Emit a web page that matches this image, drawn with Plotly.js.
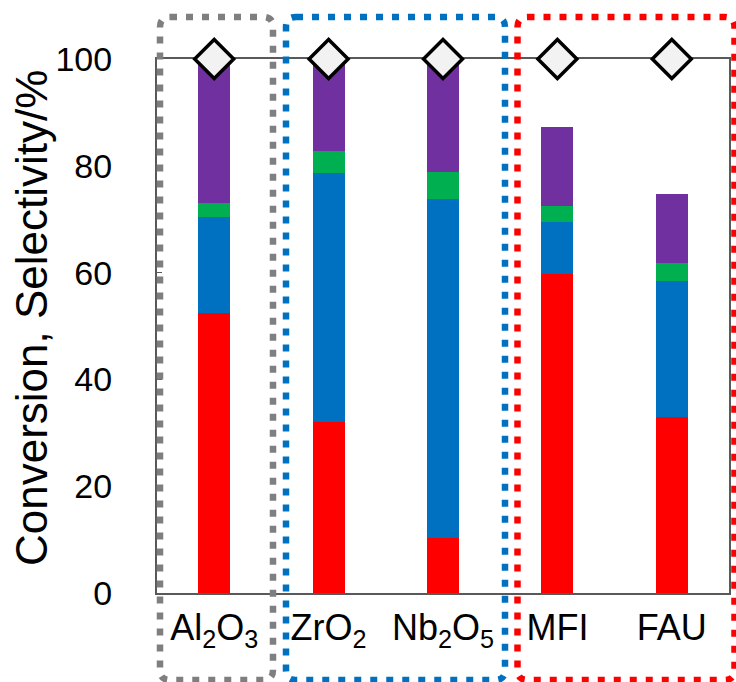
<!DOCTYPE html>
<html>
<head>
<meta charset="utf-8">
<script src="https://cdn.plot.ly/plotly-3.0.1.min.js"></script>
<style>
  html, body { margin: 0; padding: 0; background: #ffffff; }
  #chart { width: 736px; height: 682px; }
</style>
</head>
<body>
<div id="chart"></div>
<script>
// Catalysts on the category axis
const catalysts = ['Al<sub>2</sub>O<sub>3</sub>', 'ZrO<sub>2</sub>', 'Nb<sub>2</sub>O<sub>5</sub>', 'MFI', 'FAU'];

// Selectivity contributions (%), stacked bottom to top
const selRed    = [52.4, 32.0, 10.3, 59.7, 33.0];
const selBlue   = [18.0, 46.7, 63.5,  9.8, 25.4];
const selGreen  = [ 2.6,  4.1,  5.0,  3.0,  3.4];
const selPurple = [27.0, 17.2, 21.2, 14.8, 12.9];

// Conversion (%)
const conversion = [100, 100, 100, 100, 100];

const yTicks = [0, 20, 40, 60, 80, 100];
const yTitle = 'Conversion, Selectivity/%';

const idx = catalysts.map((_, i) => i);

function barTrace(values, color) {
  return {
    type: 'bar',
    x: idx,
    y: values,
    width: 0.28,
    marker: { color: color, line: { width: 0 } },
    hoverinfo: 'y',
    showlegend: false
  };
}

const traces = [
  barTrace(selRed, '#FF0000'),
  barTrace(selBlue, '#0070C0'),
  barTrace(selGreen, '#00B050'),
  barTrace(selPurple, '#7030A0'),
  {
    type: 'scatter',
    mode: 'markers',
    x: idx,
    y: conversion,
    cliponaxis: false,
    marker: {
      symbol: 'diamond',
      size: 30,
      color: '#F2F2F2',
      line: { color: '#000000', width: 3.5 }
    },
    showlegend: false
  }
];

// Plot-area geometry in pixels, used to place the grouping frames and title
const M = { l: 157, r: 7, t: 59, b: 89 };
const W = 736, H = 682;
const PW = W - M.l - M.r, PH = H - M.t - M.b;
const px = v => (v - M.l) / PW;
const py = v => (H - M.b - v) / PH;

// Rounded dotted frame around a group of catalysts
function frame(left, top, right, bottom, color) {
  const r = 10;
  const x0 = px(left), x1 = px(right), y0 = py(bottom), y1 = py(top);
  const rx = r / PW, ry = r / PH;
  const path = [
    'M', x0 + rx, y1,
    'L', x1 - rx, y1,
    'Q', x1, y1, x1, y1 - ry,
    'L', x1, y0 + ry,
    'Q', x1, y0, x1 - rx, y0,
    'L', x0 + rx, y0,
    'Q', x0, y0, x0, y0 + ry,
    'L', x0, y1 - ry,
    'Q', x0, y1, x0 + rx, y1,
    'Z'
  ].join(' ');
  return {
    type: 'path', xref: 'paper', yref: 'paper', path: path,
    line: { color: color, width: 6.5, dash: '7px,9px' },
    fillcolor: 'rgba(0,0,0,0)', layer: 'above'
  };
}

const layout = {
  width: W, height: H,
  margin: M,
  paper_bgcolor: '#ffffff',
  plot_bgcolor: '#ffffff',
  barmode: 'stack',
  font: { family: 'Liberation Sans, Arial, sans-serif', color: '#000000' },
  xaxis: {
    range: [-0.5, 4.5],
    tickmode: 'array',
    tickvals: idx,
    ticktext: catalysts,
    tickfont: { size: 36, color: '#000000' },
    ticks: '',
    ticklabelstandoff: 2,
    showgrid: false,
    zeroline: false,
    showline: true, mirror: true,
    linecolor: '#595959', linewidth: 2,
    layer: 'below traces',
    fixedrange: true
  },
  yaxis: {
    range: [0, 100],
    tickmode: 'array',
    tickvals: yTicks,
    ticktext: yTicks.map(String),
    tickfont: { size: 34, color: '#000000' },
    ticks: 'inside', ticklen: 5, tickcolor: '#595959', tickwidth: 1.5,
    ticklabelstandoff: 36,
    showgrid: false,
    zeroline: false,
    showline: true, mirror: true,
    linecolor: '#595959', linewidth: 2,
    layer: 'below traces',
    fixedrange: true
  },
  annotations: [{
    text: yTitle,
    xref: 'paper', yref: 'paper',
    x: px(31), y: py(318),
    xanchor: 'center', yanchor: 'middle',
    textangle: -90,
    showarrow: false,
    font: { size: 44, color: '#000000' }
  }],
  shapes: [
    frame(160, 17, 273, 680, '#7F7F7F'),
    frame(286, 17, 505, 680, '#0070C0'),
    frame(517.5, 17, 734.5, 680, '#FF0000')
  ]
};

Plotly.newPlot('chart', traces, layout, { displayModeBar: false, staticPlot: true });
</script>
</body>
</html>
